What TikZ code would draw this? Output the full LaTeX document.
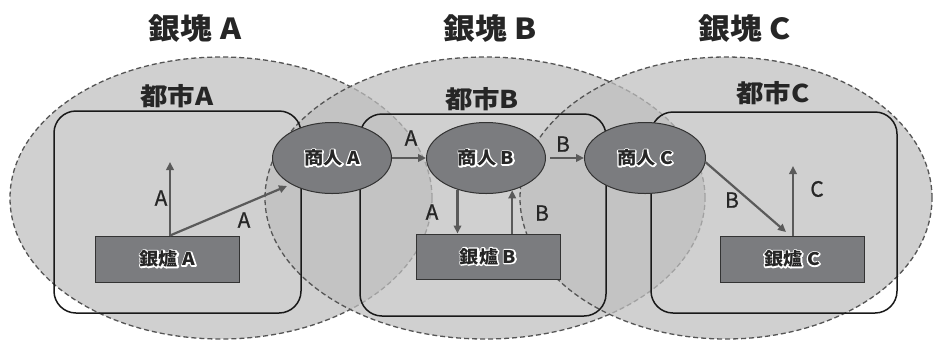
\documentclass[tikz,border=0pt]{standalone}
\usepackage{fontspec}
\setmainfont{Noto Sans CJK JP}
\newfontfamily\labfont{Noto Sans CJK JP}[FakeBold=0.8]
\usetikzlibrary{shapes.geometric,arrows.meta}
\definecolor{regfill}{gray}{0.75}
\definecolor{regline}{HTML}{555555}
\definecolor{darkfill}{HTML}{7B7C7F}
\definecolor{arrowc}{HTML}{5A5A5A}
\definecolor{txt}{HTML}{262626}
\newcommand\halo[1]{%
  \rlap{\special{pdf:literal direct 1 Tr 2.6 w 1 j 1 J 1 1 1 RG}#1\special{pdf:literal direct 0 Tr}}%
  \textcolor{txt}{#1}}
\begin{document}
\begin{tikzpicture}[x=1pt,y=-1pt,
  region/.style={ellipse,draw=regline,line width=1.3pt,dash pattern=on 5pt off 3pt,
    fill=regfill,fill opacity=0.72,draw opacity=1,inner sep=0pt,minimum height=282pt},
  city/.style={rectangle,draw=black!90,line width=1.5pt,rounded corners=22pt,inner sep=0pt},
  merch/.style={ellipse,draw=black!80,line width=1pt,fill=darkfill,inner sep=0pt,
    minimum width=119pt,minimum height=71pt,font=\bfseries\fontsize{17.5}{17.5}\selectfont},
  furn/.style={rectangle,draw=black!80,line width=1pt,fill=darkfill,inner sep=0pt,
    minimum width=144pt,minimum height=46pt,font=\bfseries\fontsize{17.5}{17.5}\selectfont},
  arr/.style={draw=arrowc,line width=2.2pt,-{Triangle[length=8pt,width=7.5pt]}},
  title/.style={text=txt,font=\bfseries\fontsize{29}{29}\selectfont,inner sep=0pt},
  ctitle/.style={text=txt,font=\bfseries\fontsize{24.5}{24.5}\selectfont,inner sep=0pt},
  lab/.style={text=txt,font=\labfont\fontsize{21}{21}\selectfont,inner sep=0pt}
]
\useasboundingbox[fill=white] (0,0) rectangle (933,341);
% silver regions
\node[region,minimum width=422pt] (rA) at (221,198) {};
\node[region,minimum width=440pt] (rB) at (485,198) {};
\node[region,minimum width=412pt] (rC) at (726,198) {};
% titles
\node[title] (tA) at (195,29) {\scalebox{1.1}[1]{銀塊 A}};
\node[title] (tB) at (490,29) {\scalebox{1.1}[1]{銀塊 B}};
\node[title] (tC) at (745,29) {\scalebox{1.1}[1]{銀塊 C}};
% cities
\node[city,minimum width=247pt,minimum height=202pt] (cA) at (177.5,212) {};
\node[city,minimum width=246pt,minimum height=202pt] (cB) at (483,215) {};
\node[city,minimum width=246pt,minimum height=201pt] (cC) at (774,212.5) {};
\node[ctitle] (lA) at (177,96) {\scalebox{1.12}[1]{都市A}};
\node[ctitle] (lB) at (482,99) {\scalebox{1.12}[1]{都市B}};
\node[ctitle] (lC) at (773,93) {\scalebox{1.12}[1]{都市C}};
% merchants
\node[merch] (mA) at (332,158) {\scalebox{1.1}[1]{\halo{商人 A}}};
\node[merch] (mB) at (486,158) {\scalebox{1.1}[1]{\halo{商人 B}}};
\node[merch,minimum width=121pt] (mC) at (645,158) {\scalebox{1.1}[1]{\halo{商人 C}}};
% furnaces
\node[furn] (fA) at (167.5,259) {\scalebox{1.1}[1]{\halo{銀爐 A}}};
\node[furn,minimum height=45pt] (fB) at (488,256.5) {\scalebox{1.1}[1]{\halo{銀爐 B}}};
\node[furn] (fC) at (792,259) {\scalebox{1.1}[1]{\halo{銀爐 C}}};
% arrow ends
\coordinate (eA1) at (170,162);
\coordinate (eA2) at (287,186);
\coordinate (eC1) at (786,232);
\coordinate (eC2) at (793,166);
% arrows
\draw[arr] (fA.north -| eA1) -- (eA1);
\draw[arr] (fA.north -| eA1) -- (eA2);
\draw[arr] (mA.east) -- (mB.west);
\draw[arr] (mB.228) -- (mB.228 |- fB.north);
\draw[arr] (mB.309 |- fB.north) -- (mB.309);
\draw[arr,shorten <=4pt] (mB.east) -- (mC.west);
\draw[arr] (mC.-4) -- (eC1);
\draw[arr] (fC.north -| eC2) -- (eC2);
% labels
\node[lab] (la1) at (161,198) {A};
\node[lab] (la2) at (244,220) {A};
\node[lab] (la3) at (411,138) {A};
\node[lab] (la4) at (432,212) {A};
\node[lab] (lb1) at (542,213) {B};
\node[lab] (lb2) at (563,144) {B};
\node[lab] (lb3) at (732,200) {B};
\node[lab] (lc1) at (817,189) {C};
\end{tikzpicture}
\end{document}
